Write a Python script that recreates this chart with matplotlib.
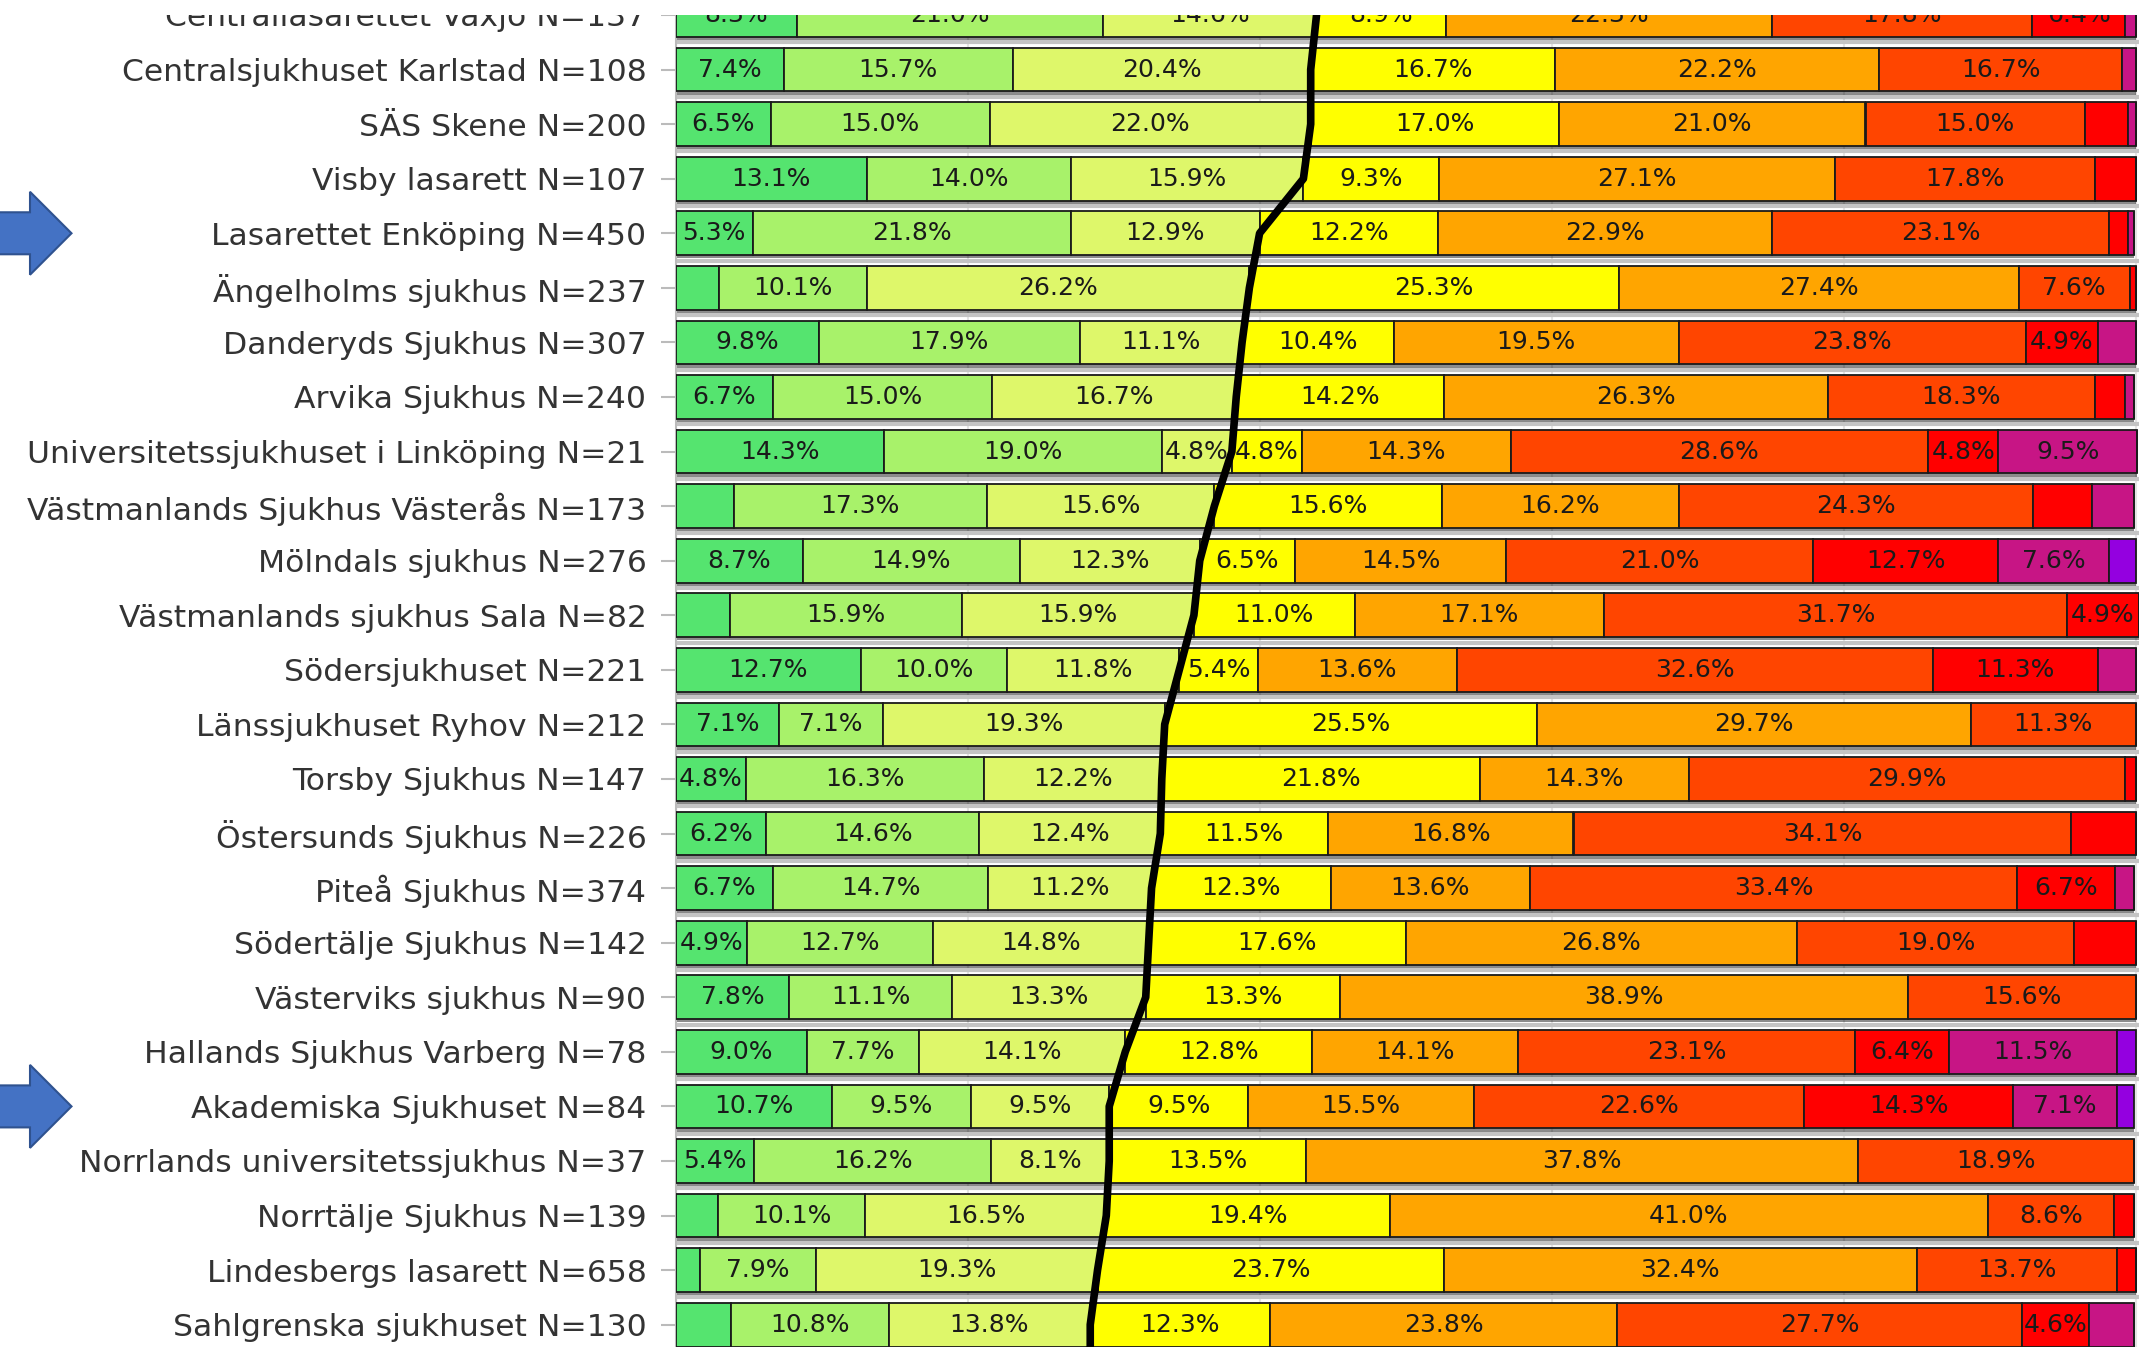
import numpy as np
import matplotlib
matplotlib.use("Agg")
import matplotlib.pyplot as plt
from matplotlib.patches import Polygon, Rectangle
import matplotlib.transforms as mtransforms

hospitals = [
    "Centrallasarettet Växjö N=137",
    "Centralsjukhuset Karlstad N=108",
    "SÄS Skene N=200",
    "Visby lasarett N=107",
    "Lasarettet Enköping N=450",
    "Ängelholms sjukhus N=237",
    "Danderyds Sjukhus N=307",
    "Arvika Sjukhus N=240",
    "Universitetssjukhuset i Linköping N=21",
    "Västmanlands Sjukhus Västerås N=173",
    "Mölndals sjukhus N=276",
    "Västmanlands sjukhus Sala N=82",
    "Södersjukhuset N=221",
    "Länssjukhuset Ryhov N=212",
    "Torsby Sjukhus N=147",
    "Östersunds Sjukhus N=226",
    "Piteå Sjukhus N=374",
    "Södertälje Sjukhus N=142",
    "Västerviks sjukhus N=90",
    "Hallands Sjukhus Varberg N=78",
    "Akademiska Sjukhuset N=84",
    "Norrlands universitetssjukhus N=37",
    "Norrtälje Sjukhus N=139",
    "Lindesbergs lasarett N=658",
    "Sahlgrenska sjukhuset N=130",
]
highlighted = ["Lasarettet Enköping N=450", "Akademiska Sjukhuset N=84"]

# share per level (%), best level first
level1 = [8.3, 7.4, 6.5, 13.1, 5.3, 3.0, 9.8, 6.7, 14.3, 4.0, 8.7, 3.7, 12.7,
          7.1, 4.8, 6.2, 6.7, 4.9, 7.8, 9.0, 10.7, 5.4, 2.9, 1.7, 3.8]
level2 = [21.0, 15.7, 15.0, 14.0, 21.8, 10.1, 17.9, 15.0, 19.0, 17.3, 14.9, 15.9, 10.0,
          7.1, 16.3, 14.6, 14.7, 12.7, 11.1, 7.7, 9.5, 16.2, 10.1, 7.9, 10.8]
level3 = [14.6, 20.4, 22.0, 15.9, 12.9, 26.2, 11.1, 16.7, 4.8, 15.6, 12.3, 15.9, 11.8,
          19.3, 12.2, 12.4, 11.2, 14.8, 13.3, 14.1, 9.5, 8.1, 16.5, 19.3, 13.8]
level4 = [8.9, 16.7, 17.0, 9.3, 12.2, 25.3, 10.4, 14.2, 4.8, 15.6, 6.5, 11.0, 5.4,
          25.5, 21.8, 11.5, 12.3, 17.6, 13.3, 12.8, 9.5, 13.5, 19.4, 23.7, 12.3]
level5 = [22.3, 22.2, 21.0, 27.1, 22.9, 27.4, 19.5, 26.3, 14.3, 16.2, 14.5, 17.1, 13.6,
          29.7, 14.3, 16.8, 13.6, 26.8, 38.9, 14.1, 15.5, 37.8, 41.0, 32.4, 23.8]
level6 = [17.8, 16.7, 15.0, 17.8, 23.1, 7.6, 23.8, 18.3, 28.6, 24.3, 21.0, 31.7, 32.6,
          11.3, 29.9, 34.1, 33.4, 19.0, 15.6, 23.1, 22.6, 18.9, 8.6, 13.7, 27.7]
level7 = [6.4, 0.0, 3.0, 2.8, 1.3, 0.4, 4.9, 2.1, 4.8, 4.0, 12.7, 4.9, 11.3,
          0.0, 0.7, 4.4, 6.7, 4.2, 0.0, 6.4, 14.3, 0.0, 1.4, 1.3, 4.6]
level8 = [0.7, 0.9, 0.5, 0.0, 0.4, 0.0, 2.6, 0.6, 9.5, 2.9, 7.6, 0.0, 2.6,
          0.0, 0.0, 0.0, 1.3, 0.0, 0.0, 11.5, 7.1, 0.0, 0.0, 0.0, 3.1]
level9 = [0.0, 0.0, 0.0, 0.0, 0.0, 0.0, 0.0, 0.0, 0.0, 0.0, 1.8, 0.0, 0.0,
          0.0, 0.0, 0.0, 0.0, 0.0, 0.0, 1.3, 1.2, 0.0, 0.0, 0.0, 0.0]

levels = [level1, level2, level3, level4, level5, level6, level7, level8, level9]
colors = ["#55E46F", "#A8F26A", "#DEF76A", "#FFFF00", "#FFA500",
          "#FF4500", "#FF0000", "#C71585", "#9400E0"]

W, H = 2139, 1347
row_px = 54.57
top_px = 15.0
left_px = 675.6
pct_px = 14.6

plt.rcParams['font.family'] = ['DejaVu Sans']

fig = plt.figure(figsize=(W / 100, H / 100), dpi=100)
ax = fig.add_axes([left_px / W, 0, 1 - left_px / W, 1])

n = len(hospitals)
y = np.arange(n)
data = np.array(levels)
totals = data.sum(axis=0)

# drop shadow under each bar
ax.barh(y + 0.06, totals, height=0.8, color="black", alpha=0.45, zorder=2, linewidth=0)

left = np.zeros(n)
for vals, col in zip(data, colors):
    ax.barh(y, vals, left=left, height=0.8, color=col, edgecolor="#1a1a1a",
            linewidth=1.3, zorder=3)
    for i in range(n):
        if vals[i] >= 4.5:
            ax.text(left[i] + vals[i] / 2, y[i], f"{vals[i]:.1f}%", ha="center", va="center",
                    fontsize=18, color="#1a1a1a", zorder=4)
    left += vals

# hand drawn line along the share of the three best levels
good = data[:3].sum(axis=0)
ax.plot(np.append(good, good[-1]), np.append(y, n), color="black", lw=5.5,
        solid_capstyle="round", solid_joinstyle="round", zorder=6)

ax.set_xlim(0, (W - left_px) / pct_px)
ax.set_ylim((H - top_px) / row_px, -top_px / row_px)

ax.set_yticks(y)
ax.set_yticklabels(hospitals, fontsize=22.6, color="#333333")
ax.set_yticks(y[:-1] + 0.5, minor=True)
ax.tick_params(axis="y", which="major", length=11, width=1.5, color="#BBBBBB", pad=10)
ax.tick_params(axis="y", which="minor", length=0)
ax.tick_params(axis="x", bottom=False, labelbottom=False)
ax.set_xticks(np.arange(0, 101, 20))
ax.grid(axis="y", which="minor", color="#C4C4C4", lw=3, zorder=1)
ax.grid(axis="x", which="major", color="#E4E4E4", lw=1.5, zorder=1)
ax.set_axisbelow(True)
for s in ["top", "right", "bottom"]:
    ax.spines[s].set_visible(False)
ax.spines["left"].set_color("#BBBBBB")
ax.spines["left"].set_linewidth(1.5)

# blue arrows pointing at the highlighted hospitals
trans = mtransforms.blended_transform_factory(fig.transFigure, ax.transData)
for name in highlighted:
    r = hospitals.index(name)
    h1, h2 = 21 / row_px, 41.5 / row_px
    pts = [(-5 / W, r - h1), (30 / W, r - h1), (30 / W, r - h2), (71.5 / W, r),
           (30 / W, r + h2), (30 / W, r + h1), (-5 / W, r + h1)]
    ax.add_patch(Polygon(pts, closed=True, transform=trans, facecolor="#4472C4",
                         edgecolor="#2F528F", lw=1.5, clip_on=False, zorder=10))

# screenshot is cut at the top
fig.add_artist(Rectangle((0, 1 - top_px / H), 1, top_px / H, transform=fig.transFigure,
                         facecolor="white", edgecolor="none", zorder=100))

fig.savefig("out.png", dpi=100)
